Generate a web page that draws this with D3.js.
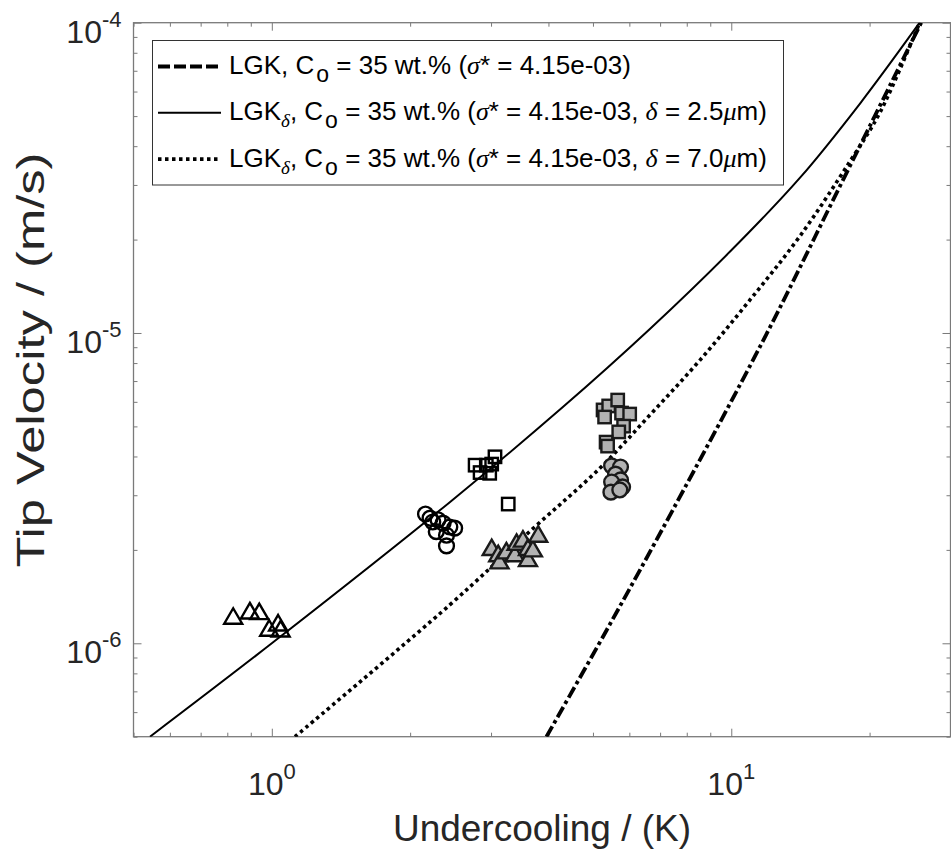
<!DOCTYPE html>
<html>
<head>
<meta charset="utf-8">
<script src="https://cdn.jsdelivr.net/npm/d3@7/dist/d3.min.js"></script>
<style>
  body { margin: 0; background: #fff; }
  text { font-family: "Liberation Sans", Arial, Helvetica, sans-serif; }
</style>
</head>
<body>
<svg id="chart" width="951" height="854"></svg>
<script>
// ---- Model curves: undercooling (K) vs tip velocity (m/s) ----
const lgkDT = [3.96, 5.35, 7.46, 11.9, 17.5, 25.9];
const lgkV  = [5e-7, 1.10e-6, 2.69e-6, 9.85e-6, 3.11e-5, 1e-4];

const lgkD25DT = [0.543, 1.0, 2.44, 4.30, 6.65, 9.94, 14.1, 19.1, 25.7];
const lgkD25V  = [5e-7, 1.0e-6, 2.85e-6, 5.77e-6, 1.03e-5, 1.83e-5, 3.16e-5, 5.51e-5, 1e-4];

const lgkD70DT = [1.123, 2.44, 3.65, 5.18, 6.65, 8.55, 10.99, 14.1, 18.1, 21.1, 25.7];
const lgkD70V  = [5e-7, 1.33e-6, 2.30e-6, 3.67e-6, 5.44e-6, 8.18e-6, 1.28e-5, 2.05e-5, 3.56e-5, 5.16e-5, 1e-4];

// ---- Measurements ----
const openTriDT = [0.824, 0.896, 0.939, 1.032, 0.987, 1.045];
const openTriV  = [1.213e-6, 1.262e-6, 1.256e-6, 1.154e-6, 1.11e-6, 1.104e-6];

const openCircDT = [2.16, 2.21, 2.24, 2.30, 2.36, 2.44, 2.50, 2.28, 2.40, 2.40];
const openCircV  = [2.61e-6, 2.53e-6, 2.46e-6, 2.50e-6, 2.44e-6, 2.37e-6, 2.35e-6, 2.29e-6, 2.23e-6, 2.06e-6];

const openSqDT = [2.77, 2.93, 3.06, 2.84, 2.98, 3.01, 3.27];
const openSqV  = [3.75e-6, 3.75e-6, 3.99e-6, 3.55e-6, 3.53e-6, 3.78e-6, 2.81e-6];

const grayTriDT = [3.01, 3.11, 3.13, 3.24, 3.38, 3.41, 3.52, 3.61, 3.61, 3.70, 3.80];
const grayTriV  = [2.02e-6, 1.93e-6, 1.83e-6, 1.97e-6, 1.93e-6, 2.10e-6, 2.15e-6, 2.02e-6, 1.86e-6, 2.0e-6, 2.23e-6];

const graySqDT = [5.26, 5.41, 5.66, 5.77, 6.01, 5.83, 5.69, 5.34, 5.38, 5.30];
const graySqV  = [5.65e-6, 5.82e-6, 6.08e-6, 5.52e-6, 5.48e-6, 5.01e-6, 4.80e-6, 4.45e-6, 4.32e-6, 5.36e-6];

const grayCircDT = [5.49, 5.74, 5.60, 5.74, 5.49, 5.80, 5.47, 5.72];
const grayCircV  = [3.73e-6, 3.70e-6, 3.51e-6, 3.36e-6, 3.31e-6, 3.19e-6, 3.07e-6, 3.12e-6];

// ---- Ticks ----
const xMajor = [1, 10];
const xMajorExp = ["0", "1"];
const xMinor = [0.5, 0.6, 0.7, 0.8, 0.9, 2, 3, 4, 5, 6, 7, 8, 9, 20, 30];
const yMajor = [1e-4, 1e-5, 1e-6];
const yMajorExp = ["-4", "-5", "-6"];
const yMinor = [5e-7, 6e-7, 7e-7, 8e-7, 9e-7, 2e-6, 3e-6, 4e-6, 5e-6, 6e-6, 7e-6, 8e-6, 9e-6,
                2e-5, 3e-5, 4e-5, 5e-5, 6e-5, 7e-5, 8e-5, 9e-5];

const xLabel = "Undercooling / (K)";
const yLabel = "Tip Velocity / (m/s)";

// ---- Layout ----
const L = 133.5, R = 950.5, T = 22.7, B = 736.7;
const x = d3.scaleLog().domain([0.5, 30]).range([L, R]);
const y = d3.scaleLog().domain([5e-7, 1e-4]).range([B, T]);

const svg = d3.select("#chart");
svg.append("rect").attr("width", 951).attr("height", 854).attr("fill", "#fff");

svg.append("defs").append("clipPath").attr("id", "plotClip")
  .append("rect").attr("x", L).attr("y", T).attr("width", R - L).attr("height", B - T);

const axisColor = "#7a7a7a";
const labelColor = "#262626";

function styleAxis(g) {
  g.select(".domain").remove();
  g.selectAll(".tick line").attr("stroke", axisColor).attr("stroke-width", 1);
  g.selectAll(".tick text").remove();
}

// ticks on all four sides, pointing inward
[[xMinor, 4], [xMajor, 8]].forEach(([vals, len]) => {
  svg.append("g").attr("transform", `translate(0,${B})`)
    .call(d3.axisBottom(x).tickValues(vals).tickSize(-len).tickSizeOuter(0)).call(styleAxis);
  svg.append("g").attr("transform", `translate(0,${T})`)
    .call(d3.axisTop(x).tickValues(vals).tickSize(-len).tickSizeOuter(0)).call(styleAxis);
});
[[yMinor, 4], [yMajor, 8]].forEach(([vals, len]) => {
  svg.append("g").attr("transform", `translate(${L},0)`)
    .call(d3.axisLeft(y).tickValues(vals).tickSize(-len).tickSizeOuter(0)).call(styleAxis);
  svg.append("g").attr("transform", `translate(${R},0)`)
    .call(d3.axisRight(y).tickValues(vals).tickSize(-len).tickSizeOuter(0)).call(styleAxis);
});

// frame
svg.append("rect").attr("x", L).attr("y", T).attr("width", R - L).attr("height", B - T)
  .attr("fill", "none").attr("stroke", axisColor).attr("stroke-width", 1.3);

// power-of-ten tick labels
xMajor.forEach((v, i) => {
  const t = svg.append("text").attr("x", x(v)).attr("y", B + 58)
    .attr("text-anchor", "middle").attr("fill", labelColor).attr("font-size", 32);
  t.append("tspan").text("10");
  t.append("tspan").attr("dy", -16).attr("font-size", 22).text(xMajorExp[i]);
});
yMajor.forEach((v, i) => {
  const t = svg.append("text").attr("x", L - 12).attr("y", y(v) + 20)
    .attr("text-anchor", "end").attr("fill", labelColor).attr("font-size", 32);
  t.append("tspan").text("10");
  t.append("tspan").attr("dy", -16).attr("font-size", 22).text(yMajorExp[i]);
});

// axis titles
svg.append("text").attr("x", (L + R) / 2).attr("y", 841)
  .attr("text-anchor", "middle").attr("fill", labelColor).attr("font-size", 37).text(xLabel);
svg.append("text").attr("transform", `translate(44,360) rotate(-90)`)
  .attr("text-anchor", "middle").attr("fill", labelColor).attr("font-size", 38)
  .attr("textLength", 415).attr("lengthAdjust", "spacingAndGlyphs").text(yLabel);

// ---- curves ----
const plot = svg.append("g").attr("clip-path", "url(#plotClip)");
const lineGen = d3.line().x(d => x(d[0])).y(d => y(d[1])).curve(d3.curveCatmullRom.alpha(0.5));
const zipPts = (a, b) => a.map((v, i) => [v, b[i]]);

const curves = [
  { dt: lgkDT,    v: lgkV,    width: 3.8, dash: "12,3.5,3.5,3.5" },
  { dt: lgkD25DT, v: lgkD25V, width: 2,   dash: null },
  { dt: lgkD70DT, v: lgkD70V, width: 3.6, dash: "3.5,3.5" }
];
curves.forEach(c => {
  plot.append("path").attr("d", lineGen(zipPts(c.dt, c.v)))
    .attr("fill", "none").attr("stroke", "#000").attr("stroke-width", c.width)
    .attr("stroke-dasharray", c.dash);
});

// ---- markers ----
const triPath = "M0,-9L9,6.5L-9,6.5Z";
const sqHalf = 6.2;
const grayFill = "#b2b2b2";
const markerGroups = [
  { dt: openTriDT,  v: openTriV,  shape: "tri",  fill: "none",   stroke: "#000" },
  { dt: openCircDT, v: openCircV, shape: "circ", fill: "none",   stroke: "#000" },
  { dt: openSqDT,   v: openSqV,   shape: "sq",   fill: "none",   stroke: "#000" },
  { dt: grayTriDT,  v: grayTriV,  shape: "tri",  fill: grayFill, stroke: "#1a1a1a" },
  { dt: graySqDT,   v: graySqV,   shape: "sq",   fill: grayFill, stroke: "#1a1a1a" },
  { dt: grayCircDT, v: grayCircV, shape: "circ", fill: grayFill, stroke: "#1a1a1a" }
];
markerGroups.forEach(m => {
  const g = plot.append("g").attr("fill", m.fill).attr("stroke", m.stroke).attr("stroke-width", 2.4);
  zipPts(m.dt, m.v).forEach(p => {
    const cx = x(p[0]), cy = y(p[1]);
    if (m.shape === "tri") g.append("path").attr("d", triPath).attr("transform", `translate(${cx},${cy})`);
    else if (m.shape === "circ") g.append("circle").attr("cx", cx).attr("cy", cy).attr("r", 7.4);
    else g.append("rect").attr("x", cx - sqHalf).attr("y", cy - sqHalf).attr("width", 2 * sqHalf).attr("height", 2 * sqHalf);
  });
});

// ---- legend ----
const leg = svg.append("g");
leg.append("rect").attr("x", 152.5).attr("y", 40.5).attr("width", 631).attr("height", 144.5)
  .attr("fill", "#fff").attr("stroke", "#333").attr("stroke-width", 1);

const legendRows = [
  { dash: "12,4", width: 3.8, delta: null },
  { dash: null, width: 2, delta: "2.5" },
  { dash: "3.5,3.5", width: 3.8, delta: "7.0" }
];
const greekFont = "'Liberation Serif', 'DejaVu Serif', serif";
legendRows.forEach((r, i) => {
  const base = 74 + i * 46.3;
  leg.append("line").attr("x1", 158).attr("x2", 221).attr("y1", base - 7.5).attr("y2", base - 7.5)
    .attr("stroke", "#000").attr("stroke-width", r.width).attr("stroke-dasharray", r.dash);
  const t = leg.append("text").attr("x", 229).attr("y", base).attr("font-size", 26).attr("fill", "#000");
  t.append("tspan").text("LGK");
  let shift = 0;
  if (r.delta) {
    t.append("tspan").attr("dy", 7).attr("font-size", 19).attr("font-family", greekFont)
      .attr("font-style", "italic").text("\u03b4");
    shift = 7;
  }
  t.append("tspan").attr("dy", -shift).text(", C");
  t.append("tspan").attr("dy", 8).attr("dx", 2).attr("font-size", 23).text("o");
  t.append("tspan").attr("dy", -8).text(" = 35 wt.% (");
  t.append("tspan").attr("font-family", greekFont).attr("font-style", "italic").text("\u03c3");
  t.append("tspan").text("* = 4.15e-03" + (r.delta ? ", " : ")"));
  if (r.delta) {
    t.append("tspan").attr("font-family", greekFont).attr("font-style", "italic").text("\u03b4");
    t.append("tspan").text(" = " + r.delta);
    t.append("tspan").attr("font-family", greekFont).attr("font-style", "italic").text("\u03bc");
    t.append("tspan").text("m)");
  }
});
</script>
</body>
</html>
